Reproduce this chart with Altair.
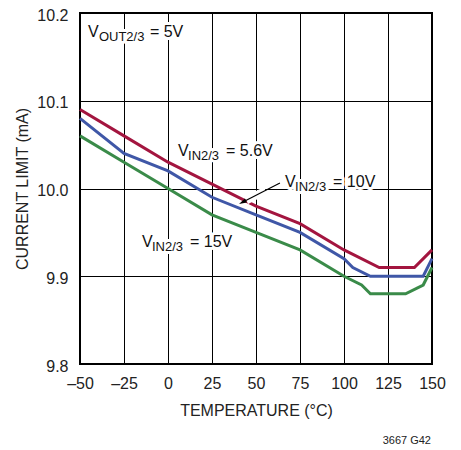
import altair as alt
import pandas as pd

# ---- data ----
temp_56 = [-50, -25, 0, 25, 50, 75, 100, 120, 140, 150]
cur_56 = [10.09, 10.06, 10.03, 10.005, 9.98, 9.96, 9.93, 9.91, 9.91, 9.93]
temp_10 = [-50, -25, 0, 25, 50, 75, 100, 105, 115, 145, 150]
cur_10 = [10.08, 10.04, 10.02, 9.99, 9.97, 9.95, 9.92, 9.91, 9.90, 9.90, 9.92]
temp_15 = [-50, -25, 0, 25, 50, 75, 100, 110, 115, 135, 145, 150]
cur_15 = [10.06, 10.03, 10.00, 9.97, 9.95, 9.93, 9.90, 9.89, 9.88, 9.88, 9.89, 9.91]

series_names = ["5.6V", "10V", "15V"]
series_colors = ["#a3153f", "#3f57a7", "#3a8b49"]

x_ticks = [-50, -25, 0, 25, 50, 75, 100, 125, 150]
y_ticks = [9.8, 9.9, 10.0, 10.1, 10.2]

# annotation labels (anchor = left/baseline of the leading "V")
out_label = {"temp": [-45.5], "cur": [10.1726], "main": ["V"], "sub": ["OUT2/3"], "rest": ["= 5V"]}
in_labels = {
    "temp": [5.7, 66.5, -14.8],
    "cur": [10.037, 10.0017, 9.9333],
    "main": ["V", "V", "V"],
    "sub": ["IN2/3", "IN2/3", "IN2/3"],
    "rest": ["= 5.6V", "= 10V", "= 15V"],
}
arrow_temp = [63.6, 42.3]
arrow_cur = [10.0063, 9.9843]
arrow_gap_temp = [55.5, 44.5]
arrow_gap_cur = [9.9977, 9.9864]
arrow_head = {"temp": [42.3], "cur": [9.9843]}

FONT = "Liberation Sans"

rows = []
for name, ts, cs in [("5.6V", temp_56, cur_56), ("10V", temp_10, cur_10), ("15V", temp_15, cur_15)]:
    for i, (t, c) in enumerate(zip(ts, cs)):
        rows.append({"series": name, "temp": t, "cur": c, "idx": i})
df = pd.DataFrame(rows)

x_axis = alt.Axis(
    values=x_ticks, title="TEMPERATURE (°C)", grid=True, gridColor="black", gridWidth=1,
    gridOpacity=1, domain=False, ticks=False, labelFont=FONT, labelFontSize=16,
    labelColor="#222", labelPadding=11, labelFlush=False,
    labelExpr="replace(datum.label, '−', '–')",
    titleFont=FONT, titleFontSize=16, titleFontWeight="normal", titleColor="#222",
    titleX=176, titleY=51, titleBaseline="alphabetic", titleAlign="center",
)
y_axis = alt.Axis(
    values=y_ticks, title="CURRENT LIMIT (mA)", format=".1f", grid=True, gridColor="black",
    gridWidth=1, gridOpacity=1, domain=False, ticks=False, labelFont=FONT, labelFontSize=16,
    labelColor="#222", labelPadding=12, labelFlush=False, labelBaseline="middle", labelOffset=2,
    titleFont=FONT, titleFontSize=16, titleFontWeight="normal", titleColor="#222",
    titleX=-58, titleY=175.5, titleAngle=-90, titleBaseline="middle", titleAlign="center",
)

X = alt.X("temp:Q", scale=alt.Scale(domain=[-50, 150], nice=False, zero=False), axis=x_axis)
Y = alt.Y("cur:Q", scale=alt.Scale(domain=[9.8, 10.2], nice=False, zero=False), axis=y_axis)

lines = alt.Chart(df).mark_line(strokeWidth=3).encode(
    x=X, y=Y,
    color=alt.Color("series:N", scale=alt.Scale(domain=series_names, range=series_colors), legend=None),
    order="idx:Q",
)

gap = alt.Chart(pd.DataFrame({"temp": arrow_gap_temp, "cur": arrow_gap_cur})).mark_line(
    color="white", strokeWidth=8
).encode(x=X, y=Y)

arrow = alt.Chart(pd.DataFrame({"temp": arrow_temp, "cur": arrow_cur})).mark_line(
    color="black", strokeWidth=1.2
).encode(x=X, y=Y)

head = alt.Chart(pd.DataFrame(arrow_head)).mark_point(
    shape="M0,-1L0.55,1L-0.55,1Z", filled=True, color="black", opacity=1, size=60, angle=243
).encode(x=X, y=Y)


def label_layers(data, sub_dx, rest_dx):
    d = pd.DataFrame(data)
    base = alt.Chart(d)
    halo = dict(font=FONT, align="left", baseline="alphabetic", fill="white",
                stroke="white", strokeWidth=6, strokeJoin="round")
    ink = dict(font=FONT, align="left", baseline="alphabetic", fill="#111")
    layers = []
    for kw in (halo, ink):
        layers.append(base.mark_text(fontSize=16, **kw).encode(x=X, y=Y, text="main:N"))
        layers.append(base.mark_text(fontSize=13, dx=sub_dx, dy=4, **kw).encode(x=X, y=Y, text="sub:N"))
        layers.append(base.mark_text(fontSize=16, dx=rest_dx, **kw).encode(x=X, y=Y, text="rest:N"))
    return layers


credit = alt.Chart(pd.DataFrame({"a": [0]})).mark_text(
    font=FONT, fontSize=11, align="right", baseline="alphabetic", color="#222"
).encode(x=alt.value(351), y=alt.value(431), text=alt.value("3667 G42"))

chart = alt.layer(
    lines, gap, arrow, head,
    *label_layers(out_label, 11, 62),
    *label_layers(in_labels, 10, 48),
    credit,
).properties(
    width=352, height=351,
    autosize=alt.AutoSizeParams(type="none"),
    padding={"left": 72, "top": 5, "right": 21, "bottom": 84},
    background="white",
).configure_view(stroke="black", strokeWidth=2)

chart.save("out.html", embed_options={"renderer": "svg", "actions": False})
